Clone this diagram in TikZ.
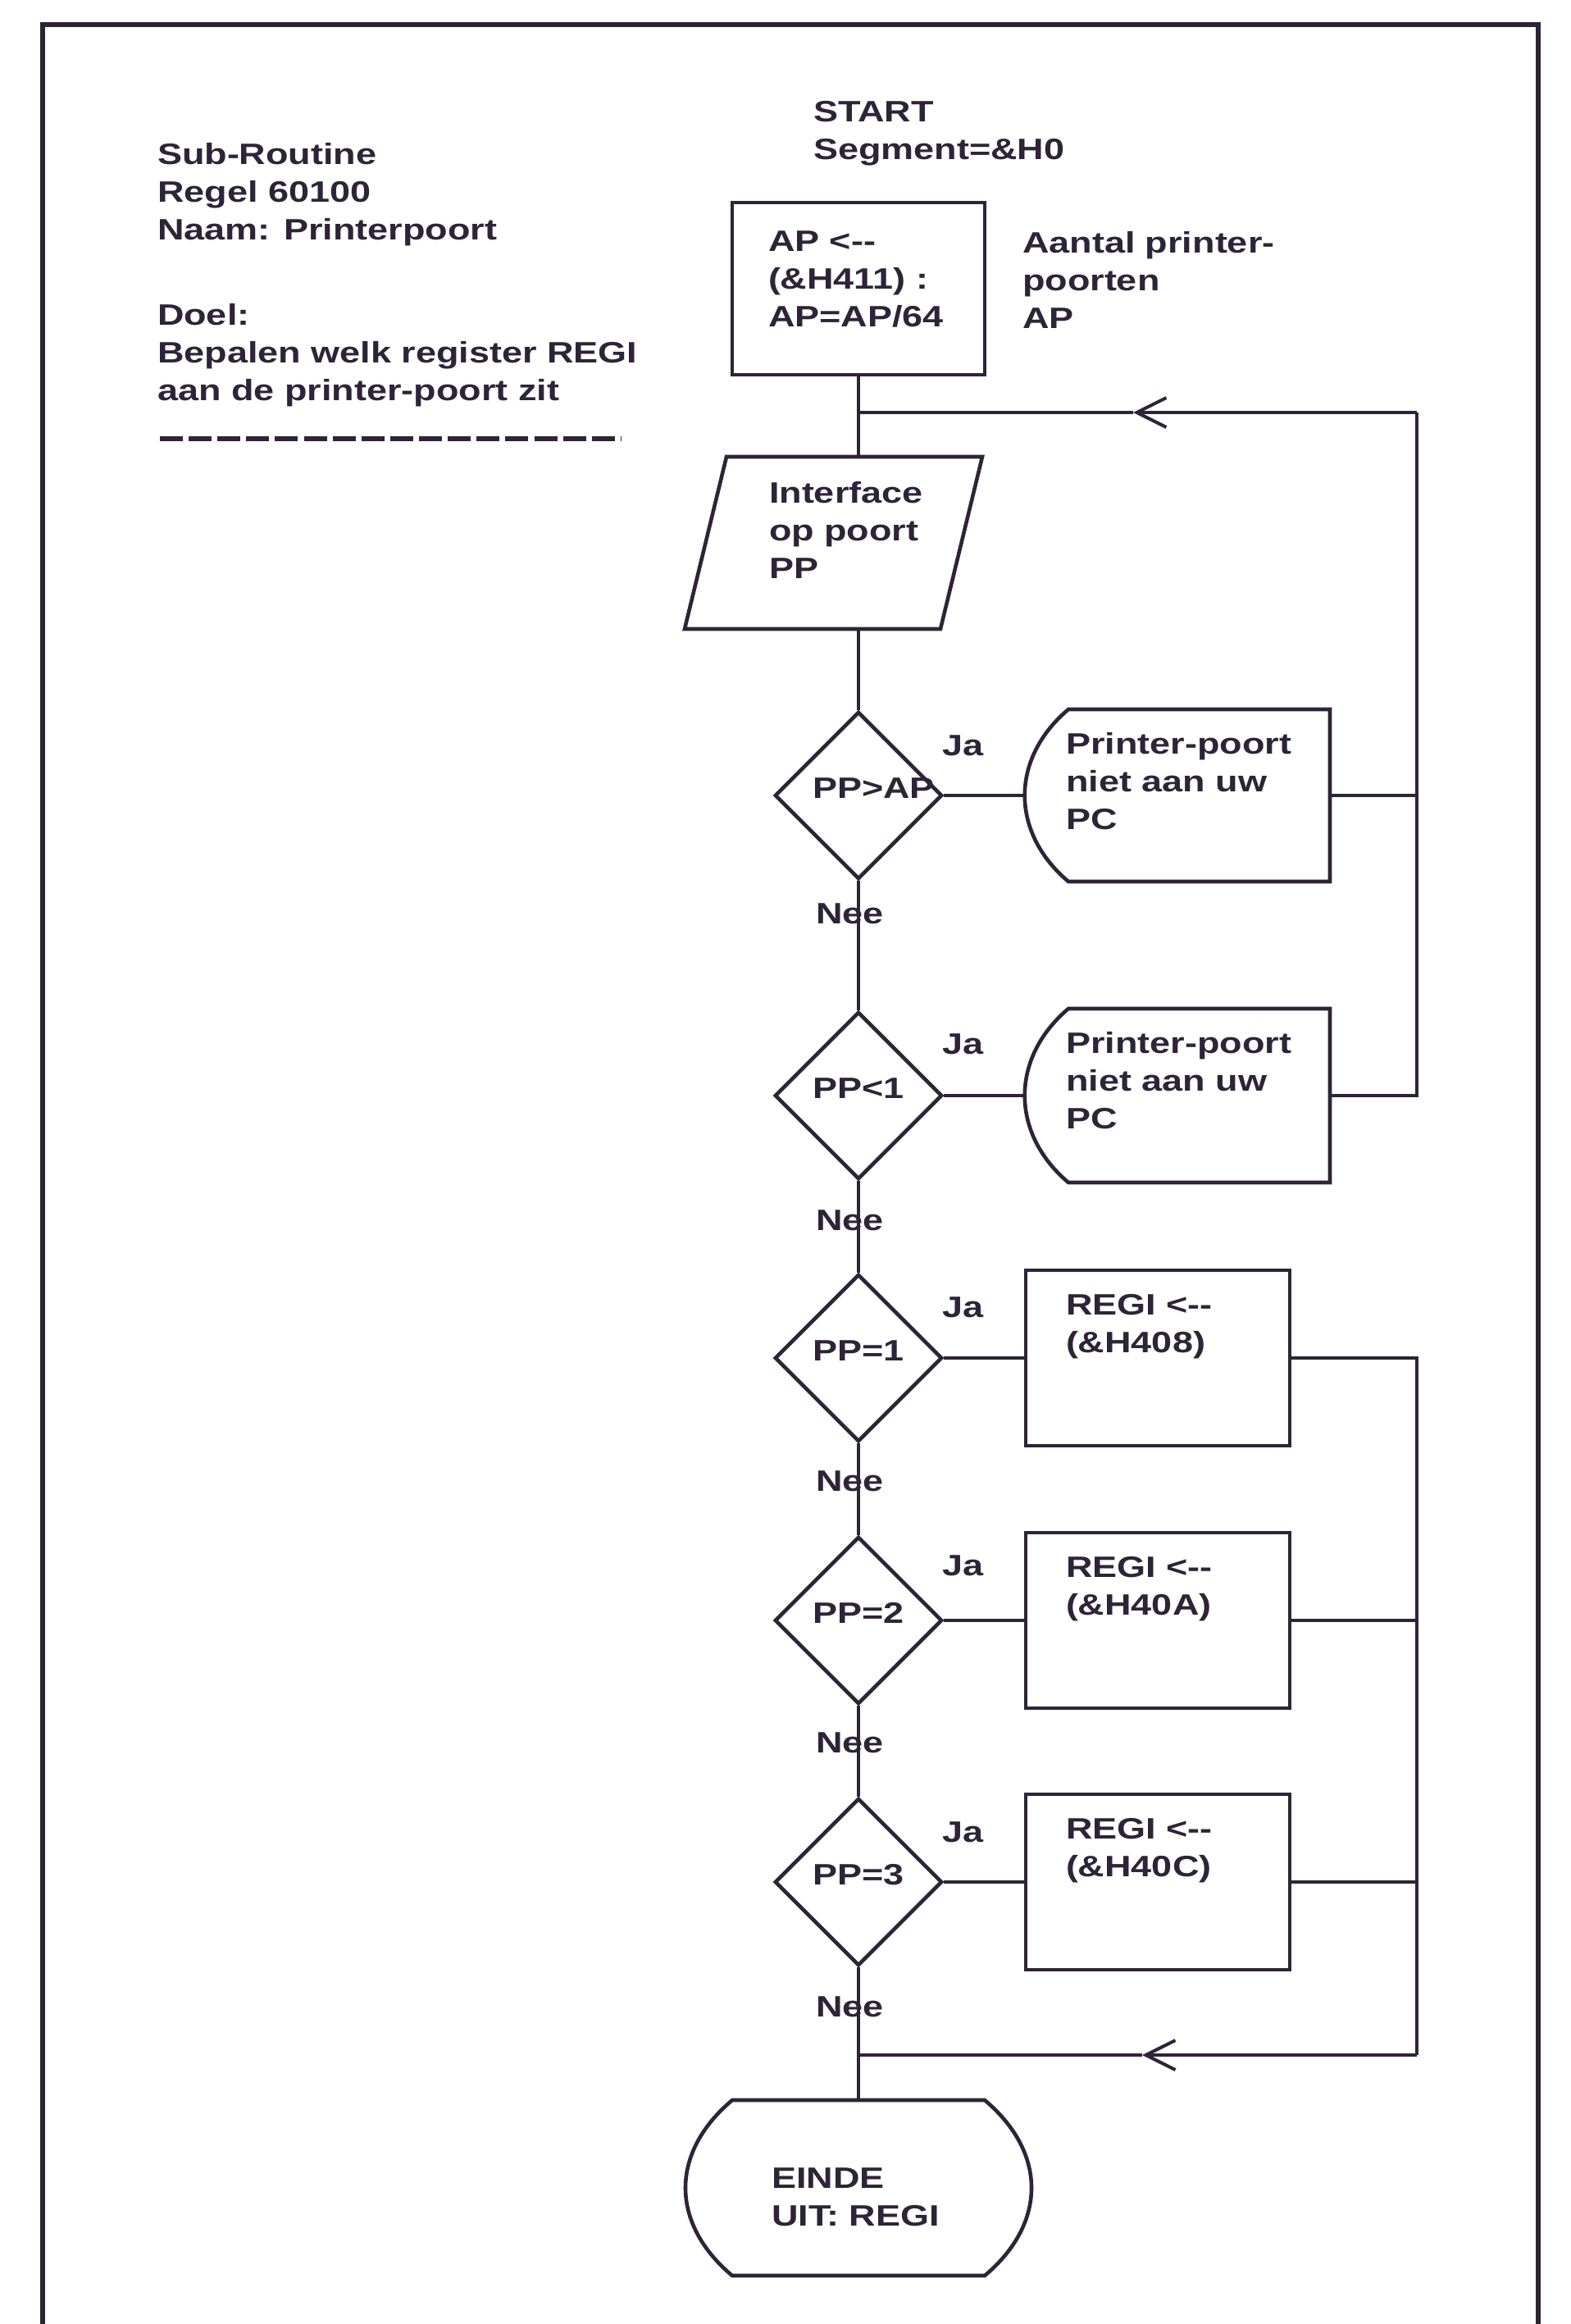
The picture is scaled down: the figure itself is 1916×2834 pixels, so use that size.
\documentclass[tikz,border=0pt]{standalone}
\usepackage{fontspec}
\setmainfont{Liberation Sans}[FakeStretch=1.25,Ligatures=TeXOff]
\usetikzlibrary{shapes.geometric,arrows.meta}
\definecolor{ink}{RGB}{46,36,56}
\begin{document}
\begin{tikzpicture}[x=0.5pt,y=-0.5pt,
  ln/.style={draw=ink,line width=2pt},
  shp/.style={draw=ink,line width=2.3pt},
  dia/.style={diamond,draw=ink,line width=2.3pt,aspect=1,minimum width=102pt,minimum height=102pt,inner sep=0pt},
  box/.style={rectangle,draw=ink,line width=2.3pt,inner sep=0pt},
  txt/.style={anchor=north west,inner sep=0pt,outer sep=0pt,align=left,text=ink,font=\fontsize{18}{23}\selectfont\bfseries},
  lbl/.style={anchor=base west,inner sep=0pt,outer sep=0pt,text=ink,font=\fontsize{18}{23}\selectfont\bfseries},
  arr/.style={-{Straight Barb[length=18pt,width=18pt,line width=2pt]}}
]
\fill[white] (0,0) rectangle (1916,2834);
\useasboundingbox (0,0) rectangle (1916,2834);

% frame
\coordinate (fbl) at (52,2834);
\coordinate (ftl) at (52,30);
\coordinate (ftr) at (1876,30);
\coordinate (fbr) at (1876,2834);
\draw[draw=ink,line width=2.6pt] (fbl) -- (ftl) -- (ftr) -- (fbr);

% header texts
\node[txt] (hdr) at (192,168) {\strut Sub-Routine\\Regel 60100\\Naam: Printerpoort};
\node[txt] (doel) at (192,364) {\strut Doel:\\Bepalen welk register REGI\\aan de printer-poort zit};
\coordinate (dashA) at (195,535);
\coordinate (dashB) at (757,535);
\draw[draw=ink,line width=2.6pt,dash pattern=on 14pt off 3.56pt] (dashA) -- (dashB);
\node[txt] (start) at (992,116) {\strut START\\Segment=\&H0};

% AP box
\node[box,minimum width=154pt,minimum height=105pt] (ap) at (1047,352) {};
\node[txt] (aptxt) at (937,274) {\strut AP <--\\(\&H411) :\\AP=AP/64};
\node[txt] (aantal) at (1247,276) {\strut Aantal printer-\\poorten\\AP};

% parallelogram
\coordinate (pT) at (1047,557);
\coordinate (pB) at (1047,767);
\draw[shp] (886,557) -- (1198,557) -- (1147,767) -- (835,767) -- cycle;
\node[txt] (intf) at (938,581) {\strut Interface\\op poort\\PP};

% decisions
\node[dia] (d1) at (1047,970) {};
\node[dia] (d2) at (1047,1336) {};
\node[dia] (d3) at (1047,1656) {};
\node[dia] (d4) at (1047,1976) {};
\node[dia] (d5) at (1047,2295) {};
\node[lbl] (q1) at (991,973) {PP>AP};
\node[lbl] (q2) at (991,1339) {PP<1};
\node[lbl] (q3) at (991,1659) {PP=1};
\node[lbl] (q4) at (991,1979) {PP=2};
\node[lbl] (q5) at (991,2298) {PP=3};
\node[lbl] (ja1) at (1149,921) {Ja};
\node[lbl] (ja2) at (1149,1285) {Ja};
\node[lbl] (ja3) at (1149,1606) {Ja};
\node[lbl] (ja4) at (1149,1921) {Ja};
\node[lbl] (ja5) at (1149,2246) {Ja};
\node[lbl] (nee1) at (995,1126) {Nee};
\node[lbl] (nee2) at (995,1500) {Nee};
\node[lbl] (nee3) at (995,1818) {Nee};
\node[lbl] (nee4) at (995,2137) {Nee};
\node[lbl] (nee5) at (995,2459) {Nee};

% terminal shapes "Printer-poort"
\coordinate (t1w) at (1250,970);
\coordinate (t1e) at (1622,970);
\draw[shp] (1622,865) -- (1303,865) .. controls (1232,925) and (1232,1015) .. (1303,1075) -- (1622,1075) -- cycle;
\node[txt] (t1txt) at (1300,887) {\strut Printer-poort\\niet aan uw\\PC};
\coordinate (t2w) at (1250,1336);
\coordinate (t2e) at (1622,1336);
\draw[shp] (1622,1230) -- (1303,1230) .. controls (1232,1290) and (1232,1382) .. (1303,1442) -- (1622,1442) -- cycle;
\node[txt] (t2txt) at (1300,1252) {\strut Printer-poort\\niet aan uw\\PC};

% REGI boxes
\node[box,minimum width=161pt,minimum height=107pt] (b1) at (1412,1656) {};
\node[box,minimum width=161pt,minimum height=107pt] (b2) at (1412,1976) {};
\node[box,minimum width=161pt,minimum height=107pt] (b3) at (1412,2295) {};
\node[txt] (b1txt) at (1300,1571) {\strut REGI <--\\(\&H408)};
\node[txt] (b2txt) at (1300,1891) {\strut REGI <--\\(\&H40A)};
\node[txt] (b3txt) at (1300,2210) {\strut REGI <--\\(\&H40C)};

% EINDE
\coordinate (eT) at (1047,2561);
\draw[shp] (893,2561) -- (1201,2561) .. controls (1277,2625) and (1277,2711) .. (1201,2775) -- (893,2775) .. controls (817,2711) and (817,2625) .. (893,2561) -- cycle;
\node[txt] (eind) at (941,2636) {\strut EINDE\\UIT: REGI};

% main column
\draw[ln] (ap.south) -- (pT);
\draw[ln] (pB) -- (d1.north);
\draw[ln] (d1.south) -- (d2.north);
\draw[ln] (d2.south) -- (d3.north);
\draw[ln] (d3.south) -- (d4.north);
\draw[ln] (d4.south) -- (d5.north);
\draw[ln] (d5.south) -- (eT);

% yes branches
\draw[ln] (d1.east) -- (t1w);
\draw[ln] (d2.east) -- (t2w);
\draw[ln] (d3.east) -- (b1.west);
\draw[ln] (d4.east) -- (b2.west);
\draw[ln] (d5.east) -- (b3.west);

% upper loop
\coordinate (rvT) at (1728,503);
\coordinate (aT) at (1382,503);
\coordinate (jT) at (1047,503);
\draw[ln] (t1e) -- (t1e -| rvT);
\draw[ln] (t2e) -| (rvT);
\draw[ln,arr] (rvT) -- (aT);
\draw[ln] (aT) -- (jT);

% lower loop
\coordinate (rvB) at (1728,2506);
\coordinate (aB) at (1393,2506);
\coordinate (jB) at (1047,2506);
\draw[ln] (b1.east) -| (rvB);
\draw[ln] (b2.east) -- (b2.east -| rvB);
\draw[ln] (b3.east) -- (b3.east -| rvB);
\draw[ln,arr] (rvB) -- (aB);
\draw[ln] (aB) -- (jB);
\end{tikzpicture}
\end{document}
